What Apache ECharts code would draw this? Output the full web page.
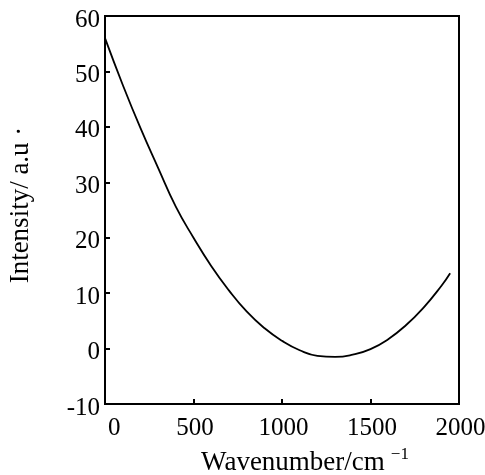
<!DOCTYPE html>
<html>
<head>
<meta charset="utf-8">
<script src="https://cdn.jsdelivr.net/npm/echarts@6/dist/echarts.min.js"></script>
<style>
html,body{margin:0;padding:0;background:#fff;}
#chart{width:485px;height:475px;}
</style>
</head>
<body>
<div id="chart"></div>
<script>
var wavenumbers = [0, 100, 200, 300, 400, 500, 600, 700, 800, 900, 1000, 1100, 1200, 1300, 1400, 1500, 1600, 1700, 1800, 1900, 1950];
var intensity = [56.0, 47.6, 39.8, 32.6, 25.6, 20.0, 14.9, 10.5, 6.7, 3.7, 1.4, -0.3, -1.3, -1.5, -1.1, -0.1, 1.7, 4.2, 7.4, 11.3, 13.6];
var xTicks = [0, 500, 1000, 1500, 2000];
var yTicks = [-10, 0, 10, 20, 30, 40, 50, 60];

var FONT = "'Liberation Serif', 'DejaVu Serif', serif";
var chart = echarts.init(document.getElementById('chart'), null, {renderer: 'canvas'});
var points = wavenumbers.map(function (w, i) { return [w, intensity[i]]; });

chart.setOption({
  animation: false,
  backgroundColor: '#fff',
  grid: {left: 105, right: 26, top: 16, bottom: 71, containLabel: false, outerBoundsMode: 'none',
    show: true, borderColor: '#000', borderWidth: 2, backgroundColor: 'transparent'},
  xAxis: {
    type: 'value',
    min: xTicks[0], max: xTicks[xTicks.length - 1], interval: 500,
    axisLine: {show: true, onZero: false, lineStyle: {color: '#000', width: 2}},
    axisTick: {show: true, inside: true, length: 5, lineStyle: {color: '#000', width: 2}},
    splitLine: {show: false},
    axisLabel: {color: '#000', fontFamily: FONT, fontSize: 25, margin: 12, alignMinLabel: 'left', padding: [0, 0, 0, 3],
      formatter: function (v) { return String(v); }},
    name: 'Wavenumber/cm{sup|\u22121}',
    nameLocation: 'middle',
    nameGap: 39,
    nameTextStyle: {
      color: '#000', fontFamily: FONT, fontSize: 27, padding: [0, 0, 0, 46],
      rich: {sup: {fontFamily: FONT, fontSize: 17, color: '#000', padding: [0, 0, 17, 6]}}
    }
  },
  yAxis: {
    type: 'value',
    min: yTicks[0], max: yTicks[yTicks.length - 1], interval: 10,
    axisLine: {show: true, onZero: false, lineStyle: {color: '#000', width: 2}},
    axisTick: {show: true, inside: true, length: 5, lineStyle: {color: '#000', width: 2}},
    splitLine: {show: false},
    axisLabel: {color: '#000', fontFamily: FONT, fontSize: 25, margin: 5, verticalAlign: 'top', lineHeight: 8,
      formatter: function (v) { return String(v); }},
    name: 'Intensity/ a.u \u00b7',
    nameLocation: 'middle',
    nameRotate: 90,
    nameGap: 71,
    nameTextStyle: {color: '#000', fontFamily: FONT, fontSize: 27, padding: [0, 0, 0, 10]}
  },
  series: [{
    type: 'line',
    data: points,
    smooth: true,
    showSymbol: false,
    lineStyle: {color: '#000', width: 1.8}
  }]
});
</script>
</body>
</html>
